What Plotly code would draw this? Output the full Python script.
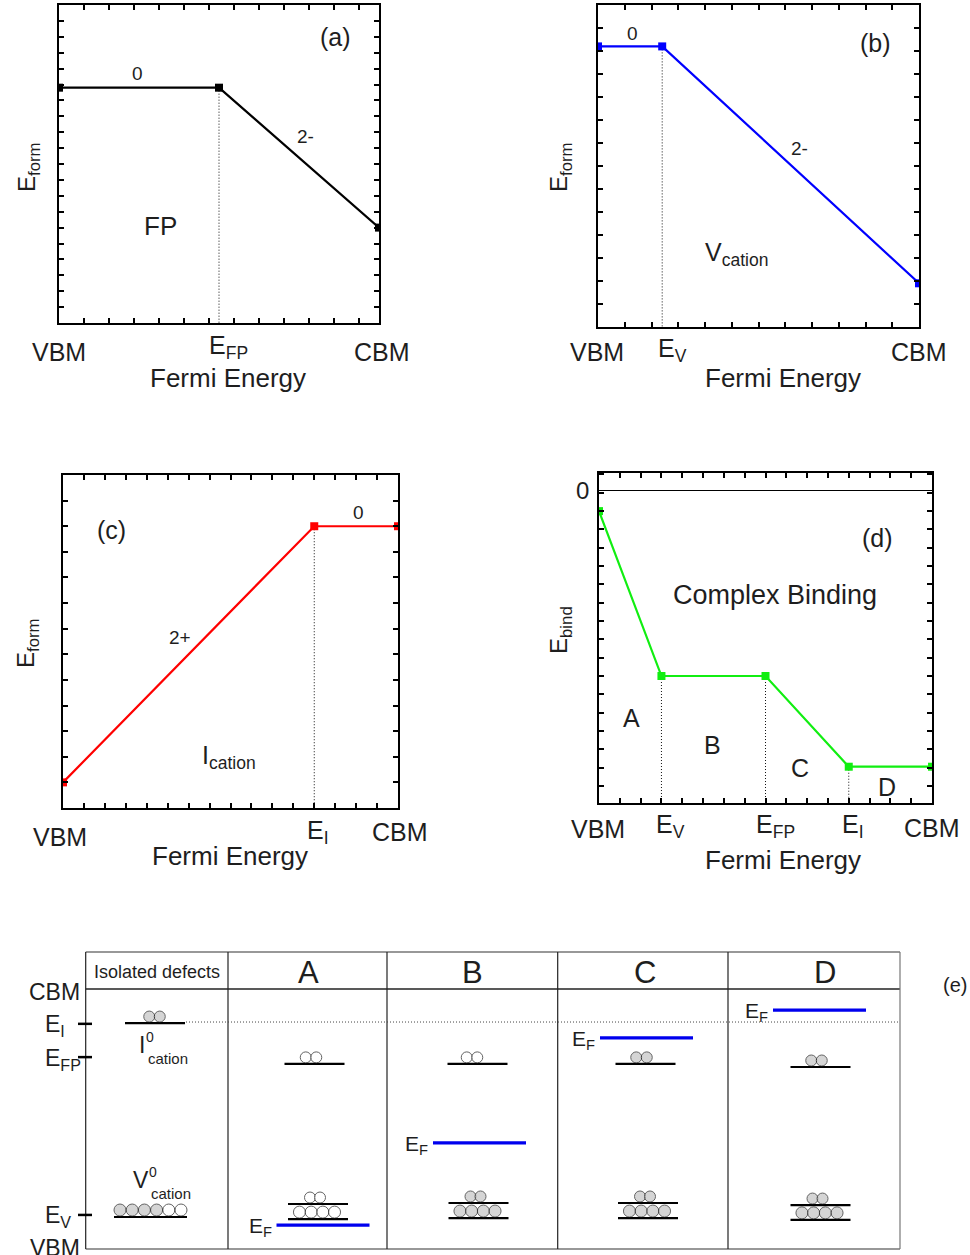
import plotly.graph_objects as go

W, H = 970, 1255
FONT = "Arial, 'Liberation Sans', Helvetica, sans-serif"
TXT = "#1e1e1e"

# ---------------- data ----------------
# (a) Frenkel pair formation energy vs Fermi energy (VBM=0, CBM=1)
fp_x = [0.0, 0.5, 1.0]
fp_y = [7.4, 7.4, 3.0]
# (b) cation vacancy
vac_x = [0.0, 0.2, 1.0]
vac_y = [12.2, 12.2, 1.9]
# (c) cation interstitial
int_x = [0.0, 0.75, 1.0]
int_y = [1.0, 11.0, 11.0]
# (d) complex binding energy
bind_x = [0.0, 0.1875, 0.5, 0.75, 1.0]
bind_y = [-1.15, -10.15, -10.15, -15.1, -15.1]

# (e) level diagram (energy: VBM=0, CBM=1)
e_columns = ["Isolated defects", "A", "B", "C", "D"]
e_int_level = [0.869, 0.712, 0.712, 0.712, 0.700]
e_int_filled = [2, 0, 0, 2, 2]          # electrons in the 2 interstitial states
e_vac_low = [0.123, 0.115, 0.119, 0.119, 0.112]
e_vac_high = [None, 0.173, 0.177, 0.177, 0.169]
e_vac_filled = [4, 0, 6, 6, 6]          # electrons in the 6 vacancy states
e_fermi = [None, 0.092, 0.408, 0.812, 0.919]
e_ref_labels = ["E<sub>I</sub>", "E<sub>FP</sub>", "E<sub>V</sub>"]
e_ref_levels = [0.866, 0.738, 0.131]


# ---------------- helpers ----------------
def dom_x(a, b):
    return [a / W, b / W]


def dom_y(top, bottom):
    return [1 - bottom / H, 1 - top / H]


def ann(text, x, y, xref, yref, size, xanchor="center", yanchor="middle",
        xshift=0, yshift=0, angle=0, color=TXT):
    return dict(text=text, x=x, y=y, xref=xref, yref=yref, showarrow=False,
                font=dict(family=FONT, size=size, color=color),
                xanchor=xanchor, yanchor=yanchor, xshift=xshift, yshift=yshift,
                textangle=angle)


fig = go.Figure()
layout = dict(width=W, height=H, margin=dict(l=0, r=0, t=0, b=0),
              paper_bgcolor="white", plot_bgcolor="white", showlegend=False)
annotations = []
shapes = []

panels = [
    dict(xdom=(59, 379), ydom=(5, 323), yr=[0, 10], xdt=1 / 12.8, ydt=0.5, y0=0,
         xs=fp_x, ys=fp_y, color="#000000", kinks=[1]),
    dict(xdom=(598, 919), ydom=(5, 327), yr=[0, 14], xdt=1 / 12, ydt=1, y0=0,
         xs=vac_x, ys=vac_y, color="#0000ff", kinks=[1]),
    dict(xdom=(63, 398), ydom=(475, 808), yr=[0, 13], xdt=1 / 16, ydt=1, y0=0,
         xs=int_x, ys=int_y, color="#ff0000", kinks=[1]),
    dict(xdom=(599, 932), ydom=(473, 803), yr=[-17.08, 0.93], xdt=1 / 16, ydt=1, y0=-0.15,
         xs=bind_x, ys=bind_y, color="#11ee11", kinks=[1, 2, 3]),
]

for i, p in enumerate(panels):
    n = "" if i == 0 else str(i + 1)
    common = dict(showline=True, linewidth=2, linecolor="black", mirror="allticks",
                  ticks="inside", ticklen=5, tickwidth=1.5, tickcolor="black",
                  showticklabels=False, showgrid=False, zeroline=False, fixedrange=True)
    layout["xaxis" + n] = dict(common, domain=dom_x(*p["xdom"]), range=[0, 1],
                               anchor="y" + n, tick0=0, dtick=p["xdt"])
    ya = dict(common, domain=dom_y(*p["ydom"]), range=p["yr"], anchor="x" + n,
              tick0=p["y0"], dtick=p["ydt"])
    if i == 3:
        ya.update(zeroline=True, zerolinecolor="black", zerolinewidth=1)
    layout["yaxis" + n] = ya
    # dotted guide lines at transition levels
    for k in p["kinks"]:
        fig.add_trace(go.Scatter(x=[p["xs"][k], p["xs"][k]], y=[p["ys"][k], p["yr"][0]],
                                 mode="lines", line=dict(color="#111111", width=1, dash="1px,2px"),
                                 xaxis="x" + n, yaxis="y" + n, hoverinfo="skip"))
    fig.add_trace(go.Scatter(x=p["xs"], y=p["ys"], mode="lines+markers",
                             line=dict(color=p["color"], width=2.2),
                             marker=dict(symbol="square", size=8, color=p["color"]),
                             xaxis="x" + n, yaxis="y" + n, cliponaxis=True))

# ----- in-panel texts -----
for t, x, y, s in [("0", 0.244, 7.86, 19), ("2-", 0.769, 5.85, 19),
                   ("FP", 0.316, 3.05, 26), ("(a)", 0.8625, 8.99, 25)]:
    annotations.append(ann(t, x, y, "x", "y", s))
for t, x, y, s in [("0", 0.106, 12.78, 19), ("2-", 0.629, 7.78, 19), ("(b)", 0.863, 12.35, 25)]:
    annotations.append(ann(t, x, y, "x2", "y2", s))
annotations.append(ann("V<sub>cation</sub>", 0.327, 3.17, "x2", "y2", 25, xanchor="left"))
for t, x, y, s in [("(c)", 0.146, 10.86, 25), ("0", 0.881, 11.52, 19), ("2+", 0.349, 6.64, 19)]:
    annotations.append(ann(t, x, y, "x3", "y3", s))
annotations.append(ann("I<sub>cation</sub>", 0.41, 2.0, "x3", "y3", 25, xanchor="left"))
for t, x, y, s in [("(d)", 0.835, -2.62, 25), ("Complex Binding", 0.529, -5.73, 27),
                   ("A", 0.099, -12.44, 25), ("B", 0.342, -13.91, 25),
                   ("C", 0.604, -15.17, 25), ("D", 0.865, -16.2, 25)]:
    annotations.append(ann(t, x, y, "x4", "y4", s))

# ----- x "tick" labels and axis titles -----
xlabels = [
    ("x", "y", [("VBM", fp_x[0], 0, -29), ("E<sub>FP</sub>", fp_x[1], 9, -24), ("CBM", fp_x[-1], 3, -29)], 0.528, -55),
    ("x2", "y2", [("VBM", vac_x[0], -1, -25), ("E<sub>V</sub>", vac_x[1], 10, -23), ("CBM", vac_x[-1], 0, -25)], 0.576, -51),
    ("x3", "y3", [("VBM", int_x[0], -3, -29), ("E<sub>I</sub>", int_x[1], 4, -24), ("CBM", int_x[-1], 2, -24)], 0.499, -48),
    ("x4", "y4", [("VBM", bind_x[0], -1, -26), ("E<sub>V</sub>", bind_x[1], 9, -23),
                  ("E<sub>FP</sub>", bind_x[2], 10, -23), ("E<sub>I</sub>", bind_x[3], 4, -23),
                  ("CBM", bind_x[-1], 0, -25)], 0.553, -57),
]
for xr, yr, labs, fx, fy in xlabels:
    for t, x, xs, ys in labs:
        annotations.append(ann(t, x, 0, xr, yr + " domain", 25, xshift=xs, yshift=ys))
    annotations.append(ann("Fermi Energy", fx, 0, xr + " domain", yr + " domain", 26, yshift=fy))

for t, px, py in [("E<sub>form</sub>", 28, 167), ("E<sub>form</sub>", 560, 167),
                  ("E<sub>form</sub>", 28, 643), ("E<sub>bind</sub>", 560, 630)]:
    annotations.append(ann(t, px / W, 1 - py / H, "paper", "paper", 24, angle=-90))
annotations.append(ann("0", 582 / W, 0, "paper", "y4", 24))

# ---------------- panel (e) ----------------
PXU = 260.0          # pixels per energy unit in (e)
VBM_PX = 1249.0
TOP_E = (VBM_PX - 952) / PXU
layout["xaxis5"] = dict(domain=dom_x(80, 905), range=[80, 905], anchor="y5", visible=False, fixedrange=True)
layout["yaxis5"] = dict(domain=dom_y(946, 1252), range=[(VBM_PX - 1252) / PXU, (VBM_PX - 946) / PXU],
                        anchor="x5", visible=False, fixedrange=True)

col_edges = [85.7, 228, 387, 557.7, 728, 900]
head_x = [157, 308, 472, 645, 825]
head_size = [18, 31, 31, 31, 31]
int_cx = [155, 314.5, 477.5, 645.5, 820.5]
int_circ_cx = [154.5, 311, 472, 641.5, 816.5]
vac_cx = [150.5, 318, 478.5, 648, 820.5]
vac_half = [36.5, 30, 30, 30, 30]
fermi_cx = [None, 323, 479.5, 646.5, 819.5]

def sh_line(x0, y0, x1, y1, color="#222222", width=1.2, dash=None, xref="x5"):
    d = dict(type="line", x0=x0, y0=y0, x1=x1, y1=y1, xref=xref, yref="y5",
             line=dict(color=color, width=width))
    if dash:
        d["line"]["dash"] = dash
    return d

# table frame
shapes.append(sh_line(col_edges[0], TOP_E, col_edges[-1], TOP_E, "#333333", 1.2))
shapes.append(sh_line(col_edges[0], 1.0, col_edges[-1], 1.0, "#222222", 1.5))
shapes.append(sh_line(col_edges[0], 0, col_edges[-1], 0, "#333333", 1.2))
for xe in col_edges:
    shapes.append(sh_line(xe, 0, xe, TOP_E, "#222222" if xe < 890 else "#777777", 1.2))
# E_I dotted reference line
shapes.append(sh_line(186, e_int_level[0] + 0.004, col_edges[-1], e_int_level[0] + 0.004, "#444444", 1, "1px,2px"))
# left reference ticks
for lev in e_ref_levels:
    shapes.append(dict(type="line", x0=78 / W, x1=92 / W, y0=lev, y1=lev, xref="paper", yref="y5",
                       line=dict(color="black", width=2.5)))

lx, ly = [], []
fx, fy = [], []
circ_x, circ_y, circ_fill, circ_size = [], [], [], []
GRAY, WHITE = "#c4c4c4", "#ffffff"

def add_seg(xs, ys, x0, x1, y):
    xs += [x0, x1, None]
    ys += [y, y, None]

for c in range(len(e_columns)):
    # interstitial level with 2 states
    add_seg(lx, ly, int_cx[c] - 30, int_cx[c] + 30, e_int_level[c])
    for j in range(2):
        circ_x.append(int_circ_cx[c] + (j - 0.5) * 10.5)
        circ_y.append(e_int_level[c] + 6.5 / PXU)
        circ_fill.append(GRAY if j < e_int_filled[c] else WHITE)
        circ_size.append(11)
    # vacancy levels (6 states)
    add_seg(lx, ly, vac_cx[c] - vac_half[c], vac_cx[c] + vac_half[c], e_vac_low[c])
    if e_vac_high[c] is None:
        for j in range(6):
            circ_x.append(vac_cx[c] + (j - 2.5) * 12.2)
            circ_y.append(e_vac_low[c] + 7 / PXU)
            circ_fill.append(GRAY if j < e_vac_filled[c] else WHITE)
            circ_size.append(12)
    else:
        add_seg(lx, ly, vac_cx[c] - vac_half[c], vac_cx[c] + vac_half[c], e_vac_high[c])
        for j in range(4):
            circ_x.append(vac_cx[c] - 1 + (j - 1.5) * 11.7)
            circ_y.append(e_vac_low[c] + 7 / PXU)
            circ_fill.append(GRAY if j < e_vac_filled[c] else WHITE)
            circ_size.append(12)
        for j in range(2):
            circ_x.append(vac_cx[c] - 3 + (j - 0.5) * 10)
            circ_y.append(e_vac_high[c] + 6.5 / PXU)
            circ_fill.append(GRAY if j + 4 < e_vac_filled[c] else WHITE)
            circ_size.append(11)
    # Fermi level
    if e_fermi[c] is not None:
        add_seg(fx, fy, fermi_cx[c] - 46.5, fermi_cx[c] + 46.5, e_fermi[c])
        annotations.append(ann("E<sub>F</sub>", fermi_cx[c] - 49.5, e_fermi[c], "x5", "y5", 21,
                               xanchor="right", yshift=-2))
    # header
    annotations.append(ann(e_columns[c], head_x[c], (VBM_PX - 972) / PXU, "x5", "y5", head_size[c]))

fig.add_trace(go.Scatter(x=lx, y=ly, mode="lines", line=dict(color="black", width=2.2),
                         xaxis="x5", yaxis="y5", hoverinfo="skip"))
fig.add_trace(go.Scatter(x=fx, y=fy, mode="lines", line=dict(color="#0000ee", width=3.2),
                         xaxis="x5", yaxis="y5", hoverinfo="skip"))
fig.add_trace(go.Scatter(x=circ_x, y=circ_y, mode="markers",
                         marker=dict(symbol="circle", size=circ_size, color=circ_fill,
                                     line=dict(color="#222222", width=1)),
                         xaxis="x5", yaxis="y5", hoverinfo="skip"))

# left energy labels of (e)
annotations.append(ann("CBM", 82 / W, 1.0, "paper", "y5", 23, xanchor="right", yshift=-3))
annotations.append(ann("VBM", 82 / W, 0.0, "paper", "y5", 23, xanchor="right", yshift=1))
for t, lev in zip(e_ref_labels, e_ref_levels):
    annotations.append(ann(t, 43 / W, lev, "paper", "y5", 23, xanchor="left", yshift=-2))

# defect labels in isolated column
annotations.append(ann("I", 142, (VBM_PX - 1045) / PXU, "x5", "y5", 23))
annotations.append(ann("0", 149.5, (VBM_PX - 1037) / PXU, "x5", "y5", 14))
annotations.append(ann("cation", 146, (VBM_PX - 1058) / PXU, "x5", "y5", 15, xanchor="left"))
annotations.append(ann("V", 140.5, (VBM_PX - 1180) / PXU, "x5", "y5", 23))
annotations.append(ann("0", 152.5, (VBM_PX - 1172) / PXU, "x5", "y5", 14))
annotations.append(ann("cation", 149, (VBM_PX - 1193) / PXU, "x5", "y5", 15, xanchor="left"))

annotations.append(ann("(e)", 955 / W, 1 - 985 / H, "paper", "paper", 20))

layout["annotations"] = annotations
layout["shapes"] = shapes
fig.update_layout(**layout)
fig.write_html("out.html")
